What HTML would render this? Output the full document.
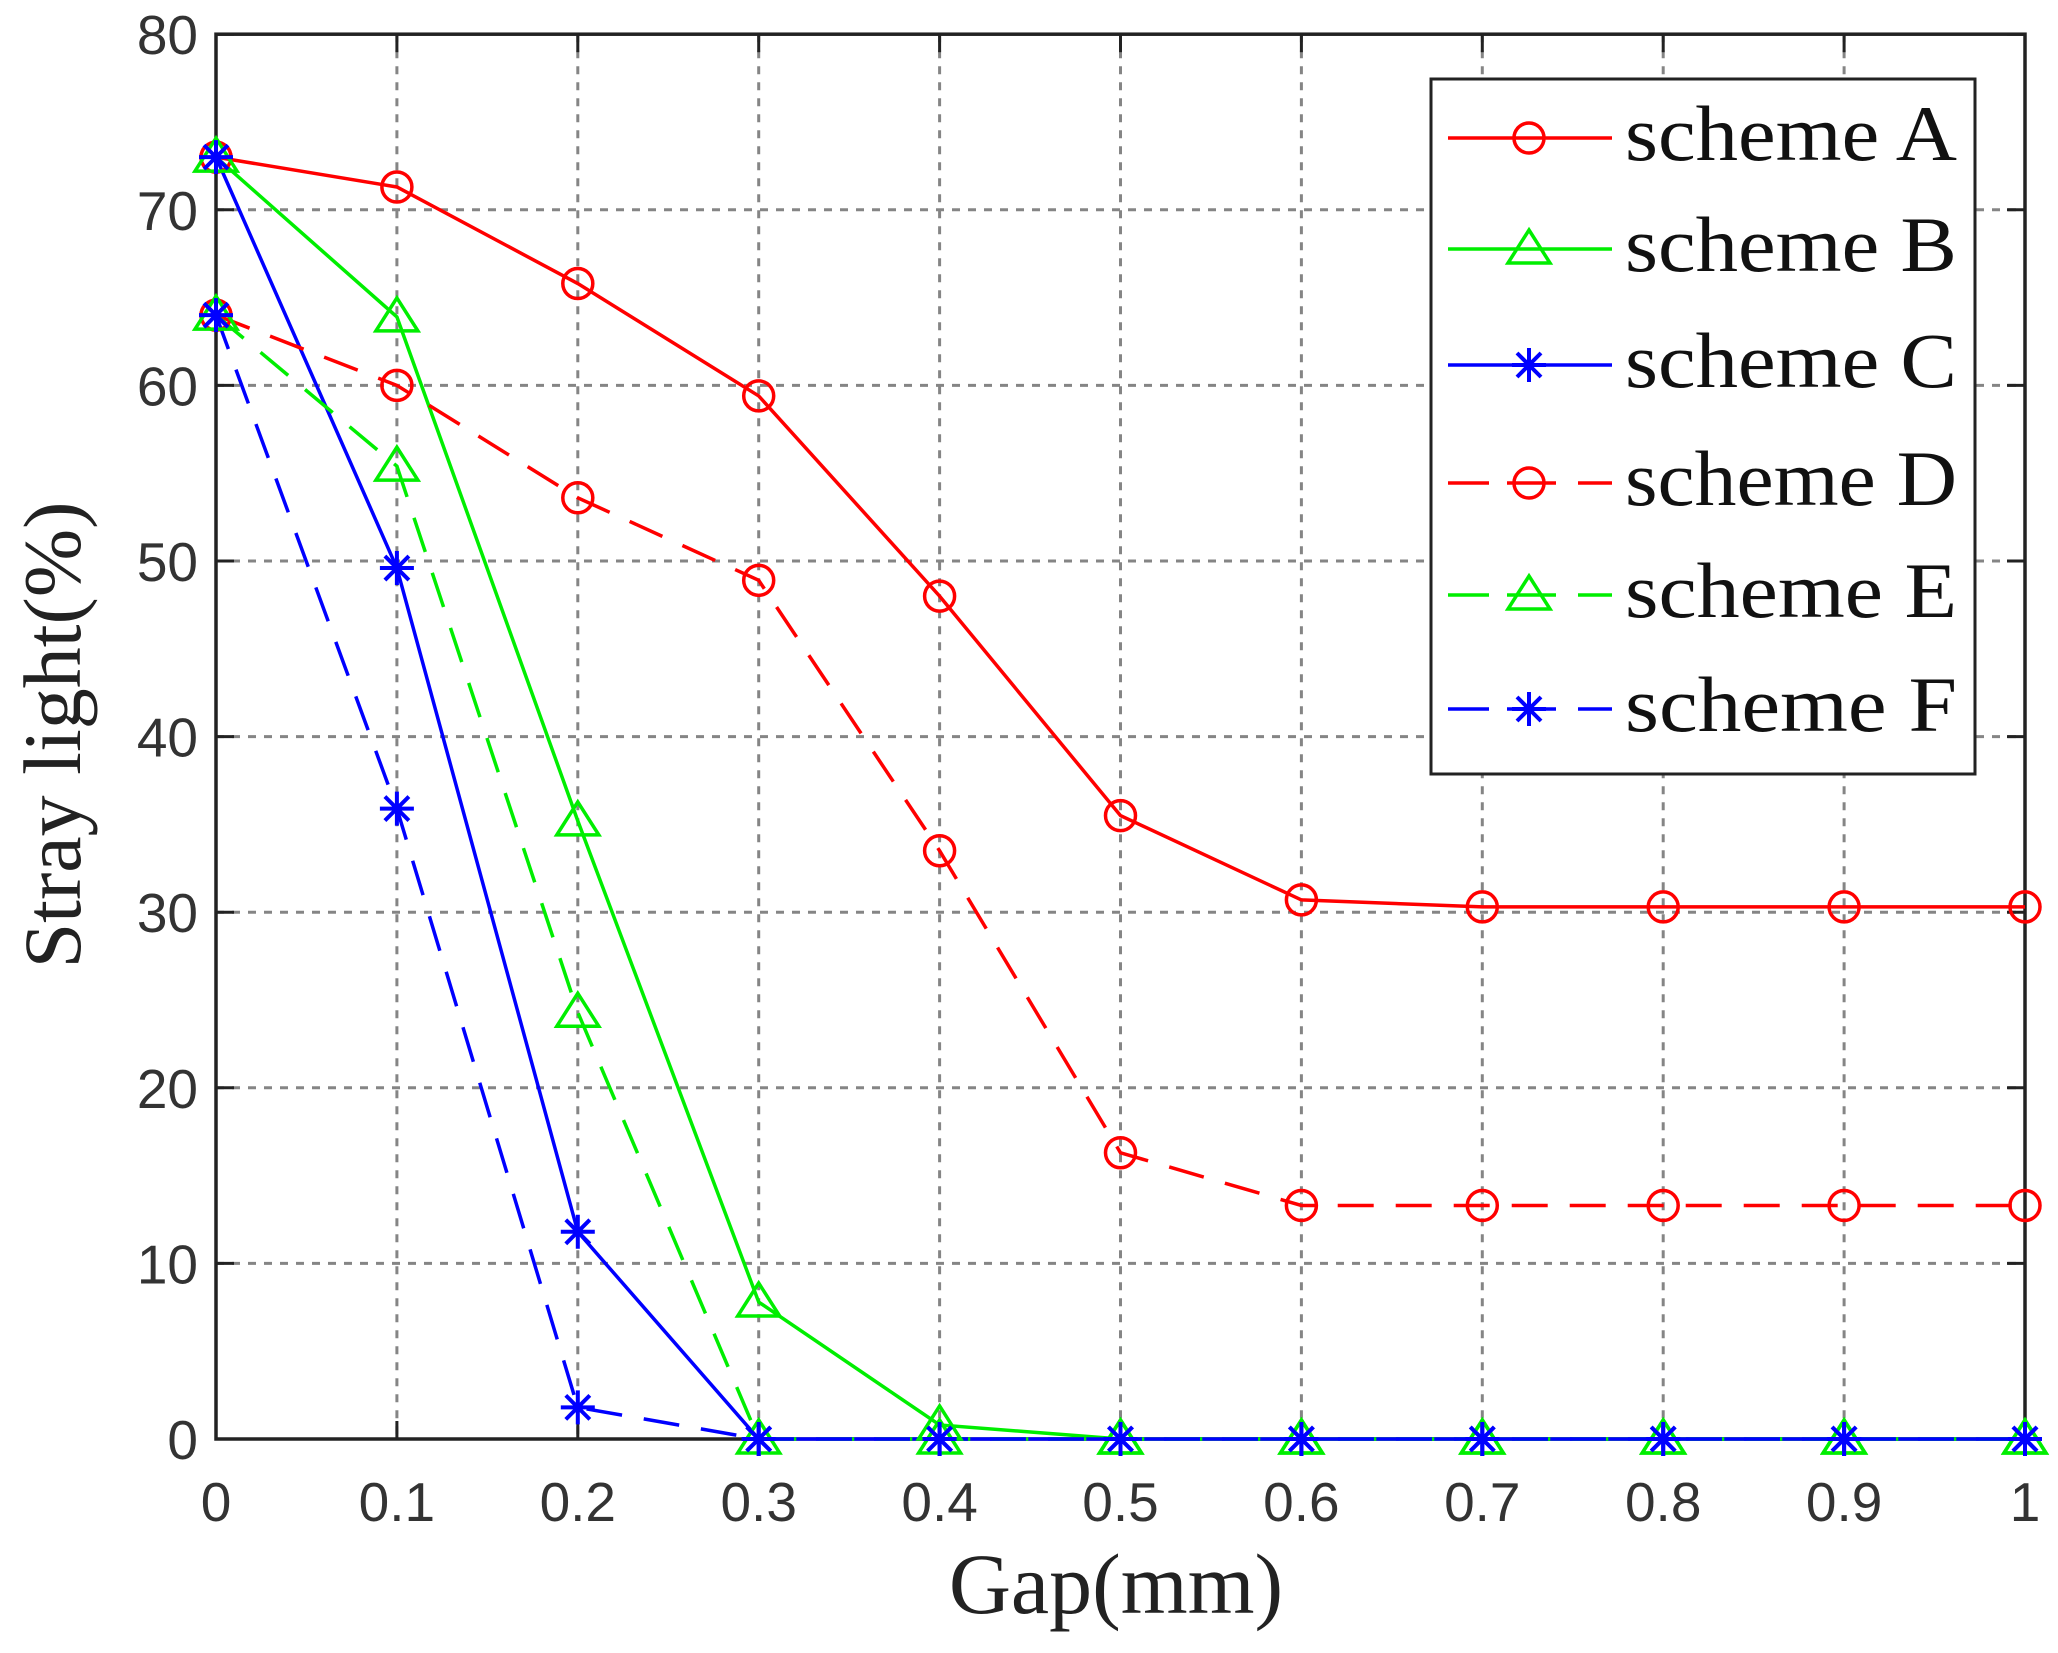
<!DOCTYPE html>
<html><head><meta charset="utf-8"><style>
html,body{margin:0;padding:0;background:#fff;}
svg{display:block;}
</style></head><body>
<svg id="s" width="2058" height="1653" xmlns="http://www.w3.org/2000/svg"></svg>
<script>
const NS="http://www.w3.org/2000/svg";
const s=document.getElementById('s');
function el(t,a,txt){const e=document.createElementNS(NS,t);for(const k in a)e.setAttribute(k,a[k]);if(txt!==undefined)e.textContent=txt;s.appendChild(e);return e;}
const X0=216,DX=180.9,Y0=1439,DY=17.56;
const X=v=>X0+v*10*DX, Y=v=>Y0-v*DY;
const L=X0,R=X(1),T=Y(80),B=Y0;
for(let i=1;i<10;i++){el('line',{x1:X(i/10),x2:X(i/10),y1:T,y2:B,stroke:'#858585','stroke-width':3,'stroke-dasharray':'8,8'});}
for(let v=10;v<80;v+=10){el('line',{x1:L,x2:R,y1:Y(v),y2:Y(v),stroke:'#858585','stroke-width':3,'stroke-dasharray':'8,8'});}
for(let i=0;i<=10;i++){const x=X(i/10);el('line',{x1:x,x2:x,y1:B,y2:B-18,stroke:'#222','stroke-width':3});el('line',{x1:x,x2:x,y1:T,y2:T+18,stroke:'#222','stroke-width':3});
 el('text',{x:x,y:1521,'font-family':'Liberation Sans, sans-serif','font-size':55,fill:'#333','text-anchor':'middle'},String(i===0?'0':i===10?'1':'0.'+i));}
for(let v=0;v<=80;v+=10){const y=Y(v);el('line',{x1:L,x2:L+18,y1:y,y2:y,stroke:'#222','stroke-width':3});el('line',{x1:R,x2:R-18,y1:y,y2:y,stroke:'#222','stroke-width':3});
 el('text',{x:198,y:y+20,'font-family':'Liberation Sans, sans-serif','font-size':55,fill:'#333','text-anchor':'end'},String(v));}
el('rect',{x:L,y:T,width:R-L,height:B-T,fill:'none',stroke:'#222','stroke-width':3.5});
const xs=[0,.1,.2,.3,.4,.5,.6,.7,.8,.9,1];
const series=[
 {d:[73,71.3,65.8,59.4,48,35.5,30.7,30.3,30.3,30.3,30.3],c:'#ff0000',m:'o',dash:null},
 {d:[73,63.9,35.2,7.8,0.8,0,0,0,0,0,0],c:'#00ee00',m:'t',dash:null},
 {d:[73,49.6,11.8,0,0,0,0,0,0,0,0],c:'#0000ff',m:'*',dash:null},
 {d:[64,60,53.6,48.9,33.5,16.3,13.3,13.3,13.3,13.3,13.3],c:'#ff0000',m:'o',dash:'36,22'},
 {d:[64,55.4,24.3,0,0,0,0,0,0,0,0],c:'#00ee00',m:'t',dash:'36,22'},
 {d:[64,35.9,1.8,0,0,0,0,0,0,0,0],c:'#0000ff',m:'*',dash:'36,22'}
];
function marker(m,x,y,c){
 if(m==='o')el('circle',{cx:x,cy:y,r:15,fill:'none',stroke:c,'stroke-width':3.5});
 else if(m==='t')el('polygon',{points:`${x},${y-19} ${x+21},${y+14} ${x-21},${y+14}`,fill:'none',stroke:c,'stroke-width':3.5});
 else{const r=17,d=12;el('path',{d:`M${x-r},${y}H${x+r}M${x},${y-r}V${y+r}M${x-d},${y-d}L${x+d},${y+d}M${x-d},${y+d}L${x+d},${y-d}`,stroke:c,'stroke-width':4,fill:'none'});}
}
for(const se of series){
 const pts=se.d.map((v,i)=>X(xs[i])+','+Y(v)).join(' ');
 const a={points:pts,fill:'none',stroke:se.c,'stroke-width':3.5};if(se.dash)a['stroke-dasharray']=se.dash;
 el('polyline',a);
}
for(const se of series){se.d.forEach((v,i)=>marker(se.m,X(xs[i]),Y(v),se.c));}
el('rect',{x:1431,y:79,width:544,height:695,fill:'#fff',stroke:'#222','stroke-width':3});
const names=['A','B','C','D','E','F'];
const rows=[138,249,365,483,595,709];
series.forEach((se,i)=>{const y=rows[i];
 if(se.dash){
  el('line',{x1:1448,x2:1489,y1:y,y2:y,stroke:se.c,'stroke-width':3.5});
  el('line',{x1:1507,x2:1556,y1:y,y2:y,stroke:se.c,'stroke-width':3.5});
  el('line',{x1:1578,x2:1612,y1:y,y2:y,stroke:se.c,'stroke-width':3.5});
 } else el('line',{x1:1448,x2:1612,y1:y,y2:y,stroke:se.c,'stroke-width':3.5});
 marker(se.m,1529,y,se.c);
 el('text',{x:1625,y:y+22,'font-family':'Liberation Serif, serif','font-size':78,fill:'#111',textLength:332,lengthAdjust:'spacingAndGlyphs'},'scheme '+names[i]);
});
el('text',{x:1116,y:1613,'font-family':'Liberation Serif, serif','font-size':86,fill:'#222','text-anchor':'middle'},'Gap(mm)');
el('text',{x:0,y:0,'font-family':'Liberation Serif, serif','font-size':82,fill:'#222','text-anchor':'middle',transform:'translate(80,735) rotate(-90)'},'Stray light(%)');
</script>
</body></html>
